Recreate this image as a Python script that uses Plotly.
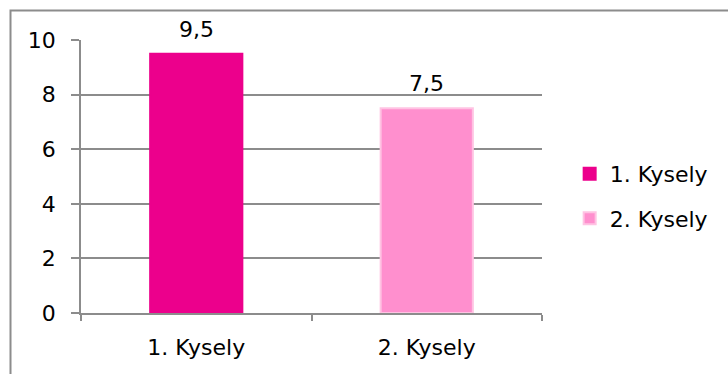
import plotly.graph_objects as go

categories = ["1. Kysely", "2. Kysely"]
values = [9.5, 7.5]
series_names = ["1. Kysely", "2. Kysely"]
fill_colors = ["#EC008C", "#FF8FCE"]
edge_colors = ["#EC008C", "#FFC3E3"]
y_ticks = [0, 2, 4, 6, 8, 10]

FONT = "Verdana, DejaVu Sans, sans-serif"
FSIZE = 22
GRID = "#8C8C8C"

fig = go.Figure()
for cat, val, name, fc, ec in zip(categories, values, series_names, fill_colors, edge_colors):
    fig.add_trace(go.Bar(
        x=[cat], y=[val], name=name, width=0.4,
        marker=dict(color=fc, line=dict(color=ec, width=2)),
        legendgroup=name,
    ))
    fig.add_annotation(
        x=cat, y=val, text=f"{val:.1f}".replace(".", ","),
        showarrow=False, yanchor="bottom", yshift=10,
        font=dict(family=FONT, size=FSIZE, color="black"),
    )

L, R, T, B = 81, 186, 40, 61
W, H = 728, 374
pw, ph = W - L - R, H - T - B

# outer chart frame
fig.add_shape(
    type="rect", xref="paper", yref="paper",
    x0=(10.5 - L) / pw, x1=(W + 20 - L) / pw,
    y0=-(B + 20) / ph, y1=1 + (T - 10.5) / ph,
    line=dict(color="#8C8C8C", width=2), fillcolor="rgba(0,0,0,0)",
    layer="below",
)

fig.update_layout(
    width=W, height=H,
    margin=dict(l=L, r=R, t=T, b=B),
    paper_bgcolor="white", plot_bgcolor="white",
    barmode="overlay",
    font=dict(family=FONT, size=FSIZE, color="black"),
    showlegend=True,
    legend=dict(
        x=1.06, xanchor="left", xref="paper",
        y=0.427, yanchor="middle",
        traceorder="grouped", tracegroupgap=13,
        font=dict(family=FONT, size=FSIZE, color="black"),
        itemwidth=30,
        bgcolor="rgba(0,0,0,0)",
    ),
    xaxis=dict(
        type="category", showgrid=False,
        showline=True, linecolor=GRID, linewidth=1.5,
        ticks="outside", tickson="boundaries", ticklen=6, tickcolor=GRID, tickwidth=1.5,
        ticklabelstandoff=14,
        tickfont=dict(family=FONT, size=FSIZE, color="black"),
    ),
    yaxis=dict(
        range=[0, 10], tickvals=y_ticks,
        showgrid=True, gridcolor=GRID, gridwidth=1.5,
        showline=True, linecolor=GRID, linewidth=1.5,
        ticks="outside", ticklen=8, tickcolor=GRID, tickwidth=1.5,
        ticklabelstandoff=11, zeroline=False,
        tickfont=dict(family=FONT, size=FSIZE, color="black"),
    ),
)

fig.write_html("out.html")
